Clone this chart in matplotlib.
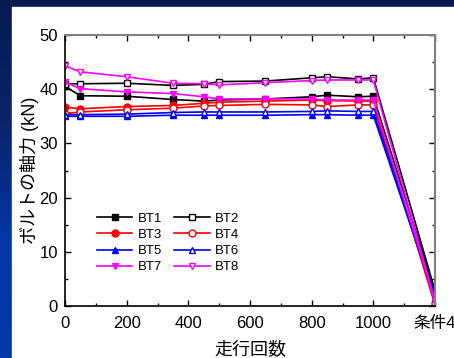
import matplotlib
matplotlib.use("Agg")
import matplotlib.pyplot as plt
from matplotlib.ticker import MultipleLocator, FixedLocator
from matplotlib.colors import LinearSegmentedColormap
from matplotlib.patches import Rectangle
import numpy as np

plt.rcParams['font.family'] = ['Liberation Sans', 'Noto Sans CJK JP']

# running count, last point is "条件4"
x = [0, 50, 200, 350, 450, 500, 650, 800, 850, 950, 1000, 1200]

bt1 = [40.5, 38.8, 38.7, 38.1, 37.8, 38.0, 38.2, 38.6, 38.9, 38.6, 38.7, 2.5]
bt2 = [41.0, 41.0, 41.1, 40.7, 40.9, 41.4, 41.5, 42.1, 42.3, 41.9, 42.1, 2.8]
bt3 = [36.7, 36.4, 36.8, 37.0, 37.4, 37.6, 37.8, 38.0, 37.9, 37.8, 37.8, 0.2]
bt4 = [35.5, 35.8, 36.2, 36.5, 36.9, 37.0, 37.2, 37.1, 36.8, 37.1, 37.1, 0.5]
bt5 = [35.0, 35.0, 35.0, 35.2, 35.2, 35.2, 35.2, 35.3, 35.3, 35.2, 35.2, 1.5]
bt6 = [35.3, 35.3, 35.4, 35.7, 35.8, 35.8, 35.8, 35.9, 36.0, 35.9, 35.9, 2.0]
bt7 = [41.3, 40.1, 39.5, 39.2, 38.6, 38.2, 38.2, 38.2, 38.0, 38.0, 38.0, 1.0]
bt8 = [44.3, 43.2, 42.3, 41.1, 41.0, 40.8, 41.2, 41.6, 41.7, 41.7, 41.7, 0.8]

xticks = [0, 200, 400, 600, 800, 1000, 1200]
xticklabels = ["0", "200", "400", "600", "800", "1000", "条件4"]

W, H = 454, 358
fig = plt.figure(figsize=(W / 100, H / 100), dpi=100)

# slide background
bg = fig.add_axes([0, 0, 1, 1], zorder=-5)
cmap = LinearSegmentedColormap.from_list("slide", ["#081a52", "#0a2468", "#0236a4", "#0039a8"])
grad = np.linspace(0, 1, 256).reshape(-1, 1)
bg.imshow(grad, cmap=cmap, aspect="auto", extent=[0, W, H, 0])
bg.add_patch(Rectangle((12, 7), W - 12, H - 7, color="white"))
bg.set_xlim(0, W)
bg.set_ylim(H, 0)
bg.axis("off")

ax = fig.add_axes([65 / W, 1 - 306 / H, 370 / W, 271 / H])

series = [bt1, bt2, bt3, bt4, bt5, bt6, bt7, bt8]
labels = ["BT1", "BT2", "BT3", "BT4", "BT5", "BT6", "BT7", "BT8"]
colors = ["black", "black", "red", "red", "blue", "blue", "magenta", "magenta"]
markers = ["s", "s", "o", "o", "^", "^", "v", "v"]
filled = [True, False, True, False, True, False, True, False]

lines = []
for i in range(len(series)):
    l, = ax.plot(x, series[i], color=colors[i], marker=markers[i], markersize=5,
                 markerfacecolor=colors[i] if filled[i] else "white",
                 markeredgecolor=colors[i], linewidth=1.2, label=labels[i])
    lines.append(l)

ax.set_xlim(0, 1200)
ax.set_ylim(0, 50)
ax.xaxis.set_major_locator(FixedLocator(xticks))
ax.set_xticklabels(xticklabels)
ax.xaxis.set_minor_locator(MultipleLocator(100))
ax.yaxis.set_major_locator(MultipleLocator(10))
ax.yaxis.set_minor_locator(MultipleLocator(5))
ax.tick_params(which="both", direction="in", top=True, right=True, labelsize=12)
ax.tick_params(axis="x", pad=7)
ax.tick_params(axis="y", pad=5)
ax.tick_params(which="major", length=4, width=1)
ax.tick_params(which="minor", length=2.5, width=1)

for s in ["left", "bottom"]:
    ax.spines[s].set_linewidth(1.2)
for s in ["top", "right"]:
    ax.spines[s].set_color("#808080")
    ax.spines[s].set_linewidth(1.5)

ax.set_xlabel("走行回数", fontsize=13, labelpad=8)
ax.set_ylabel("ボルトの軸力 (kN)", fontsize=13, labelpad=0)

# row-wise legend order: BT1 BT2 / BT3 BT4 / ...
order = [0, 2, 4, 6, 1, 3, 5, 7]
ax.legend([lines[i] for i in order], [labels[i] for i in order],
          ncol=2, loc="upper left", bbox_to_anchor=(0.086, 0.345), frameon=False,
          fontsize=9.5, handlelength=2.7, handletextpad=0.4, columnspacing=0.9,
          labelspacing=0.3, borderpad=0, borderaxespad=0)

fig.savefig("out.png", dpi=100)
